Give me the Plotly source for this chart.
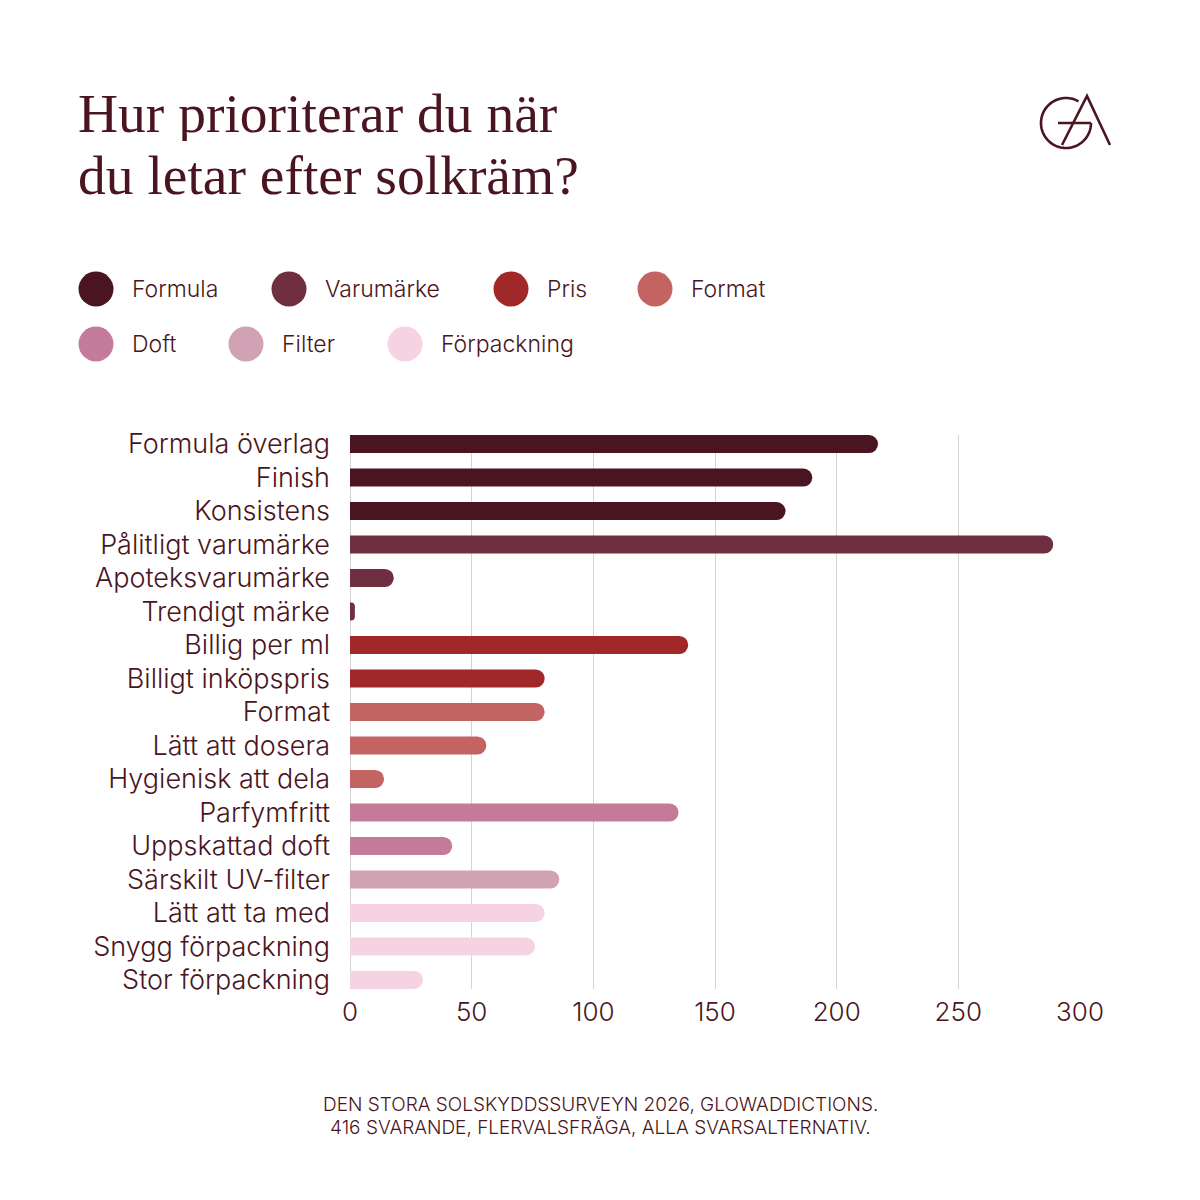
import numpy as np
import plotly.graph_objects as go

# ---------------- data ----------------
categories = [
    "Formula överlag", "Finish", "Konsistens",
    "Pålitligt varumärke", "Apoteksvarumärke", "Trendigt märke",
    "Billig per ml", "Billigt inköpspris",
    "Format", "Lätt att dosera", "Hygienisk att dela",
    "Parfymfritt", "Uppskattad doft",
    "Särskilt UV-filter",
    "Lätt att ta med", "Snygg förpackning", "Stor förpackning",
]
values = [217, 190, 179, 289, 18, 2, 139, 80, 80, 56, 14, 135, 42, 86, 80, 76, 30]
groups = (["Formula"] * 3 + ["Varumärke"] * 3 + ["Pris"] * 2 + ["Format"] * 3
          + ["Doft"] * 2 + ["Filter"] + ["Förpackning"] * 3)
series = ["Formula", "Varumärke", "Pris", "Format", "Doft", "Filter", "Förpackning"]
colors = ["#4a1520", "#6f2f40", "#a12828", "#c46462", "#c47b9a", "#d0a2b3", "#f5d3e2"]
x_ticks = [0, 50, 100, 150, 200, 250, 300]

title_lines = ["Hur prioriterar du när", "du letar efter solkräm?"]
source_lines = ["DEN STORA SOLSKYDDSSURVEYN 2026, GLOWADDICTIONS.",
                "416 SVARANDE, FLERVALSFRÅGA, ALLA SVARSALTERNATIV."]

# ---------------- style ----------------
W = H = 1200
TXT = "#4a1520"
SANS = "Inter, Liberation Sans, Arial, sans-serif"
SERIF = "Liberation Serif, Times New Roman, serif"


def px(x):
    return x / W


def py(y):
    return 1 - y / H


fig = go.Figure()
for name, col in zip(series, colors):
    ys = [c for c, g in zip(categories, groups) if g == name]
    xs = [v for v, g in zip(values, groups) if g == name]
    fig.add_trace(go.Bar(
        x=xs, y=ys, orientation="h", name=name,
        marker=dict(color=col, line=dict(width=0)),
        width=0.54, showlegend=False, hoverinfo="x+y",
    ))

n = len(categories)
pad = 0.27
fig.update_layout(
    width=W, height=H,
    margin=dict(l=0, r=0, t=0, b=0, autoexpand=False),
    paper_bgcolor="white", plot_bgcolor="white",
    barmode="overlay", barcornerradius=9,
    xaxis=dict(
        domain=[px(350), px(1080)], range=[0, 300],
        tickvals=x_ticks, ticktext=[str(t) for t in x_ticks],
        showgrid=True, gridcolor="#d4d4d4", gridwidth=1,
        zeroline=True, zerolinecolor="#d4d4d4", zerolinewidth=1,
        showline=False, ticks="", automargin=False,
        tickfont=dict(family=SANS, size=26, color=TXT, weight=300),
        ticklabelstandoff=5,
    ),
    yaxis=dict(
        domain=[py(989), py(435)],
        categoryorder="array", categoryarray=categories,
        range=[n - 1 + pad, -pad],
        showgrid=False, zeroline=False, showline=False, ticks="",
        automargin=False,
        tickfont=dict(family=SANS, size=27, color=TXT, weight=300),
        ticklabelstandoff=19,
    ),
)

shapes = []
annotations = []

# title
for line, yc in zip(title_lines, [113, 175]):
    annotations.append(dict(
        x=px(76), y=py(yc), xref="paper", yref="paper", text=line,
        showarrow=False, xanchor="left", yanchor="middle", height=56,
        font=dict(family=SERIF, size=55.5, color=TXT),
    ))

# custom legend
leg_pos = [(96, 289), (289, 289), (511, 289), (655, 289),
           (96, 344), (246, 344), (405, 344)]
r = 17.5
for (cx, cy), name, col in zip(leg_pos, series, colors):
    shapes.append(dict(
        type="circle", xref="paper", yref="paper",
        x0=px(cx - r), x1=px(cx + r), y0=py(cy + r), y1=py(cy - r),
        fillcolor=col, line=dict(width=0),
    ))
    annotations.append(dict(
        x=px(cx + 34), y=py(cy), xref="paper", yref="paper", text=name,
        showarrow=False, xanchor="left", yanchor="middle",
        font=dict(family=SANS, size=23, color=TXT, weight=300),
    ))

# source
for line, yc in zip(source_lines, [1103.5, 1127]):
    annotations.append(dict(
        x=0.5, y=py(yc), xref="paper", yref="paper", text=line,
        showarrow=False, xanchor="center", yanchor="middle", height=22,
        font=dict(family=SANS, size=19, color=TXT, weight=300),
    ))

# logo
lcx, lcy, lr = 1066, 123, 25
th = np.radians(np.linspace(0, -300, 80))
pts = [(lcx + lr * np.cos(t), lcy - lr * np.sin(t)) for t in th]
path = "M " + " L ".join(f"{px(a):.5f},{py(b):.5f}" for a, b in pts)
logo_line = dict(color=TXT, width=2.6)
shapes.append(dict(type="path", xref="paper", yref="paper", path=path, line=logo_line))
shapes.append(dict(type="line", xref="paper", yref="paper",
                   x0=px(1058), y0=py(123), x1=px(1091), y1=py(123), line=logo_line))
a_path = f"M {px(1062):.5f},{py(145):.5f} L {px(1087):.5f},{py(96):.5f} L {px(1110):.5f},{py(145):.5f}"
shapes.append(dict(type="path", xref="paper", yref="paper", path=a_path, line=logo_line))

fig.update_layout(shapes=shapes, annotations=annotations)
fig.write_html(
    "out.html",
    post_script="document.body.style.margin='0';"
                "document.documentElement.style.overflow='hidden';",
)
